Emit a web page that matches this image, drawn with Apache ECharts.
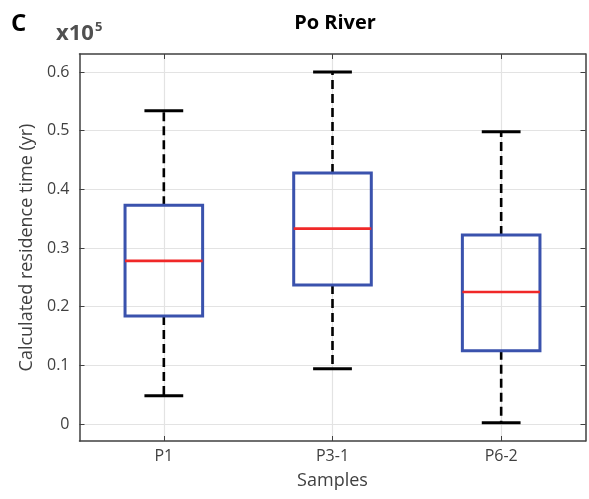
<!DOCTYPE html>
<html>
<head>
<meta charset="utf-8">
<script src="https://cdn.jsdelivr.net/npm/echarts@6/dist/echarts.min.js"></script>
<style>html,body{margin:0;padding:0;background:#fff;}#c{width:589px;height:499px;}</style>
</head>
<body>
<div id="c"></div>
<script>
// ---- data (values in units of 1e5 yr) ----
const categories = ['P1', 'P3-1', 'P6-2'];
const whiskerLow = [0.048, 0.094, 0.002];
const q1 = [0.184, 0.237, 0.125];
const median = [0.278, 0.333, 0.225];
const q3 = [0.373, 0.428, 0.322];
const whiskerHigh = [0.534, 0.600, 0.498];
const yTicks = [0, 0.1, 0.2, 0.3, 0.4, 0.5, 0.6];
const xTicks = [1, 2, 3];

const FONT = 'Open Sans';
const boxData = categories.map((c, i) => [i + 1, whiskerLow[i], q1[i], median[i], q3[i], whiskerHigh[i]]);

const chart = echarts.init(document.getElementById('c'));
const axisCommon = {
  axisLine: { show: true, onZero: false, lineStyle: { color: '#404040', width: 1.5 } },
  splitLine: { show: false },
  axisLabel: { show: false }
};
const option = {
  backgroundColor: '#fff',
  animation: false,
  grid: { left: 79.5, right: 3.5, top: 54, bottom: 58, show: false },
  xAxis: [{
    type: 'value', min: 0.5, max: 3.5, position: 'bottom',
    axisLine: { show: true, onZero: false, lineStyle: { color: '#404040', width: 1.5 } },
    axisTick: { show: true, inside: true, length: 5, customValues: xTicks, lineStyle: { color: '#404040' } },
    axisLabel: { show: true, customValues: xTicks, color: '#404040', fontFamily: FONT, fontSize: 16, margin: 7,
      formatter: v => categories[Math.round(v) - 1] || '' },
    splitLine: { show: true, lineStyle: { color: '#e3e3e3', width: 1.2 } },
    name: 'Samples', nameLocation: 'middle', nameGap: 31,
    nameTextStyle: { color: '#404040', fontFamily: FONT, fontSize: 18 }
  }, Object.assign({
    type: 'value', min: 0.5, max: 3.5, position: 'top',
    axisTick: { show: true, inside: true, length: 5, customValues: xTicks, lineStyle: { color: '#404040' } }
  }, axisCommon)],
  yAxis: [{
    type: 'value', min: -0.029, max: 0.6307, position: 'left',
    axisLine: { show: true, onZero: false, lineStyle: { color: '#404040', width: 1.5 } },
    axisTick: { show: true, inside: true, length: 5, customValues: yTicks, lineStyle: { color: '#404040' } },
    axisLabel: { show: true, customValues: yTicks, color: '#404040', fontFamily: FONT, fontSize: 16, margin: 10,
      formatter: v => String(Math.round(v * 10) / 10) },
    splitLine: { show: true, lineStyle: { color: '#e3e3e3', width: 1.2 } },
    name: 'Calculated residence time (yr)', nameLocation: 'middle', nameGap: 40,
    nameTextStyle: { color: '#404040', fontFamily: FONT, fontSize: 18 }
  }, Object.assign({
    type: 'value', min: -0.029, max: 0.6307, position: 'right',
    axisTick: { show: true, inside: true, length: 5, customValues: yTicks, lineStyle: { color: '#404040' } }
  }, axisCommon)],
  graphic: [
    { type: 'text', left: 11, top: 12, style: { text: 'C', font: 'bold 24px "Open Sans"', fill: '#000' } },
    { type: 'text', left: 56, top: 21, style: { text: '{a|x10}{b|5}', fill: '#505050',
      rich: { a: { fontFamily: FONT, fontWeight: 'bold', fontSize: 22, fill: '#505050' },
              b: { fontFamily: FONT, fontWeight: 'bold', fontSize: 13, fill: '#505050', verticalAlign: 'top', padding: [0, 0, 12, 1] } } } },
    { type: 'text', x: 335, y: 23, style: { text: 'Po River', font: 'bold 20px "Open Sans"', fill: '#000', textAlign: 'center', textVerticalAlign: 'middle' } }
  ],
  series: [{
    type: 'custom',
    xAxisIndex: 0, yAxisIndex: 0,
    data: boxData,
    clip: false,
    renderItem: function (params, api) {
      const x = api.value(0);
      const pLo = api.coord([x, api.value(1)]);
      const pQ1 = api.coord([x, api.value(2)]);
      const pMed = api.coord([x, api.value(3)]);
      const pQ3 = api.coord([x, api.value(4)]);
      const pHi = api.coord([x, api.value(5)]);
      const bw = api.size([0.46, 0])[0];
      const cw = api.size([0.23, 0])[0];
      const cx = pMed[0];
      const whisk = { stroke: '#000', lineWidth: 2.6, lineDash: [9, 5] };
      const cap = { stroke: '#000', lineWidth: 3 };
      return {
        type: 'group',
        children: [
          { type: 'line', shape: { x1: cx, y1: pQ3[1], x2: cx, y2: pHi[1] }, style: whisk },
          { type: 'line', shape: { x1: cx, y1: pQ1[1], x2: cx, y2: pLo[1] }, style: whisk },
          { type: 'line', shape: { x1: cx - cw / 2, y1: pHi[1], x2: cx + cw / 2, y2: pHi[1] }, style: cap },
          { type: 'line', shape: { x1: cx - cw / 2, y1: pLo[1], x2: cx + cw / 2, y2: pLo[1] }, style: cap },
          { type: 'rect', shape: { x: cx - bw / 2, y: pQ3[1], width: bw, height: pQ1[1] - pQ3[1] },
            style: { fill: 'none', stroke: '#3a52ad', lineWidth: 3 } },
          { type: 'line', shape: { x1: cx - bw / 2, y1: pMed[1], x2: cx + bw / 2, y2: pMed[1] },
            style: { stroke: '#f02828', lineWidth: 2.6 } }
        ]
      };
    }
  }]
};
chart.setOption(option);
</script>
</body>
</html>
